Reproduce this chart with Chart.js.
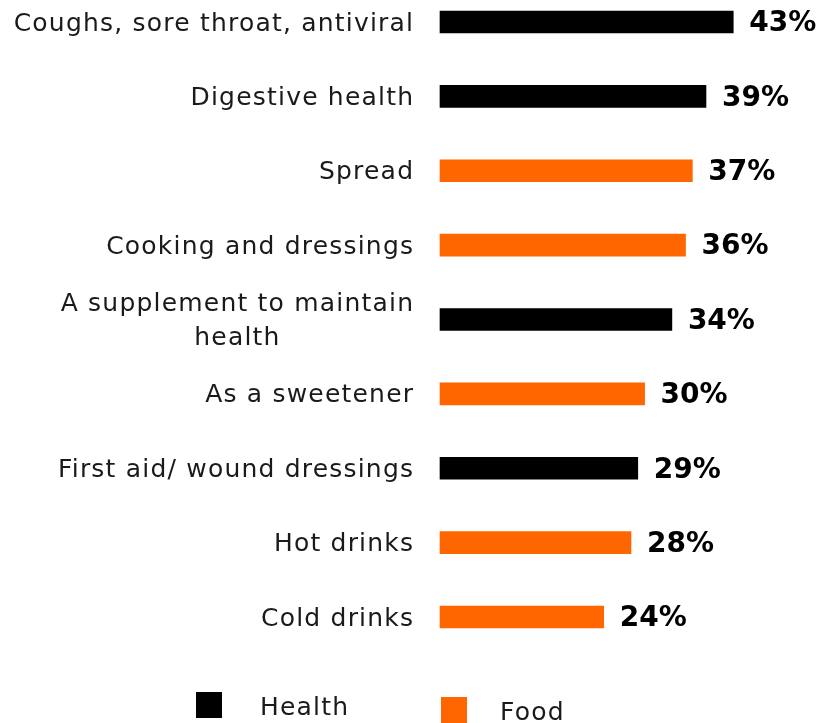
<!DOCTYPE html>
<html>
<head>
<meta charset="utf-8">
<script src="https://cdn.jsdelivr.net/npm/chart.js"></script>
<style>
  body { margin: 0; background: #fff; }
  #wrap { position: relative; width: 823px; height: 723px; }
  #chart { position: absolute; left: 0; top: 0; }
  .key { position: absolute; font-family: "DejaVu Sans", sans-serif; font-size: 25px; letter-spacing: 1.2px; color: #1a1a1a; }
  .sw { position: absolute; width: 26px; height: 26px; }
</style>
</head>
<body>
<div id="wrap">
  <canvas id="chart" width="823" height="723"></canvas>
  <div class="sw" style="left:196px;top:692px;background:#000"></div>
  <div class="key" style="left:260px;top:692px">Health</div>
  <div class="sw" style="left:441px;top:697px;background:#ff6600"></div>
  <div class="key" style="left:500px;top:697px">Food</div>
</div>
<script>
const categories = [
    'Coughs, sore throat, antiviral',
    'Digestive health',
    'Spread',
    'Cooking and dressings',
    ['A supplement to maintain', 'health'],
    'As a sweetener',
    'First aid/ wound dressings',
    'Hot drinks',
    'Cold drinks'
];
const values = [43, 39, 37, 36, 34, 30, 29, 28, 24];
const groups = ['Health', 'Health', 'Food', 'Food', 'Health', 'Food', 'Health', 'Food', 'Food'];
const groupColors = { Health: '#000000', Food: '#ff6600' };

// labels on both sides of the bars, placed with the chart's own scales
const sideLabels = {
    id: 'sideLabels',
    afterDatasetsDraw(chart) {
        const ctx = chart.ctx;
        const x = chart.scales.x;
        const y = chart.scales.y;
        ctx.save();
        ctx.textBaseline = 'middle';
        categories.forEach((cat, i) => {
            const yc = y.getPixelForValue(i);
            const lines = Array.isArray(cat) ? cat : [cat];
            ctx.font = '25px "DejaVu Sans", sans-serif';
            ctx.letterSpacing = '1.2px';
            ctx.fillStyle = '#1a1a1a';
            const widths = lines.map(l => ctx.measureText(l).width - 1.2);
            const maxW = Math.max(...widths);
            const right = chart.chartArea.left - 27;
            const lh = 34;
            lines.forEach((l, j) => {
                ctx.textAlign = 'left';
                const w = ctx.measureText(l).width - 1.2;
                ctx.fillText(l, right - maxW / 2 - w / 2, yc + 2 + (j - (lines.length - 1) / 2) * lh);
            });
            ctx.font = 'bold 28px "DejaVu Sans", sans-serif';
            ctx.letterSpacing = '0px';
            ctx.fillStyle = '#000';
            ctx.textAlign = 'left';
            ctx.fillText(values[i] + '%', x.getPixelForValue(values[i]) + 16, yc + 2);
        });
        ctx.restore();
    }
};

new Chart(document.getElementById('chart'), {
    type: 'bar',
    data: {
        labels: categories,
        datasets: [{
            data: values,
            backgroundColor: groups.map(g => groupColors[g]),
            barThickness: 22,
            clip: false
        }]
    },
    options: {
        indexAxis: 'y',
        responsive: false,
        animation: false,
        layout: { padding: { left: 440, right: 42, top: 22, bottom: 106 } },
        plugins: { legend: { display: false }, tooltip: { enabled: false } },
        scales: {
            x: { display: false, min: 0, max: 50 },
            y: { display: false, offset: false }
        }
    },
    plugins: [sideLabels]
});
</script>
</body>
</html>
